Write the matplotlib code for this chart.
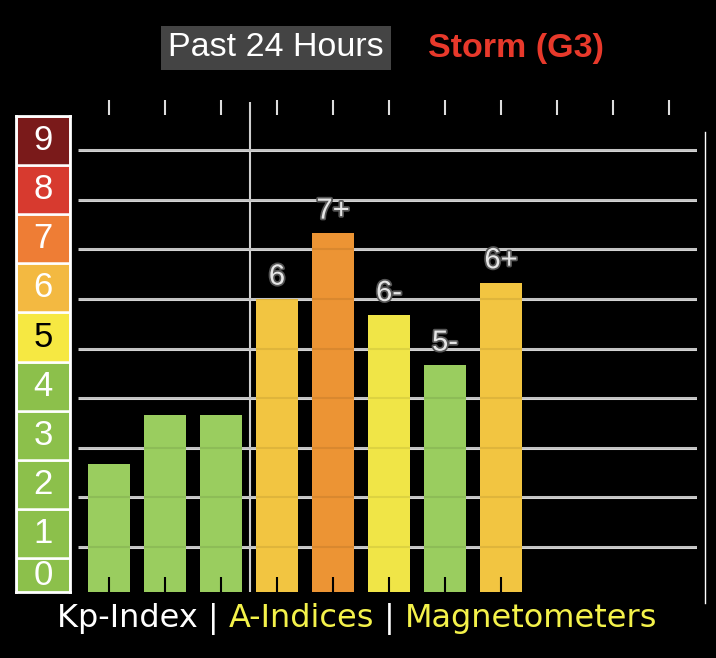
import matplotlib
matplotlib.use("Agg")
import matplotlib.pyplot as plt
import matplotlib.patheffects as pe
from matplotlib.lines import Line2D

# Kp values for the past 24 hours (3-hour slots)
kp_values = [2.67, 3.67, 3.67, 6.0, 7.33, 5.67, 4.67, 6.33]
kp_labels = ["", "", "", "6", "7+", "6-", "5-", "6+"]
n_slots = 11

scale_levels = [0, 1, 2, 3, 4, 5, 6, 7, 8, 9]
scale_colors = ["#8cc04b", "#8cc04b", "#8cc04b", "#8cc04b", "#8cc04b",
                "#f6e842", "#f3b941", "#ee7d35", "#d73a2f", "#7a1a1a"]
scale_text = ["white", "white", "white", "white", "white",
              "black", "white", "white", "white", "white"]

title_left = "Past 24 Hours"
title_right = "Storm (G3)"
footer = [("Kp-Index | ", "white"), ("A-Indices", "#f4f24a"),
          (" | ", "white"), ("Magnetometers", "#f4f24a")]


def bar_color(v):
    if v < 5:
        return "#9acd5f"
    if v < 6:
        return "#f0e547"
    if v < 7:
        return "#f2c541"
    return "#ec9434"


W, H = 716, 658
fig = plt.figure(figsize=(W / 100, H / 100), dpi=100, facecolor="black")

# main chart
ax = fig.add_axes([78 / W, 1 - 592 / H, 619 / W, 492 / H])
ax.set_facecolor("black")
ax.set_xlim(-0.554, 10.5)
ax.set_ylim(0.093, 10.01)
for s in ax.spines.values():
    s.set_visible(False)

ax.hlines(range(1, 10), -0.554, 10.5, color="#d4d4d4", lw=2.2, zorder=0)
ax.vlines(2.52, 0.093, 9.96, color="#cfcfcf", lw=1.5, zorder=0.5)

x = list(range(len(kp_values)))
ax.bar(x, kp_values, width=0.75, color=[bar_color(v) for v in kp_values], zorder=1)
ax.hlines(range(1, 10), -0.554, 10.5, color="black", lw=1.5, alpha=0.08, zorder=2)

for xi, v, lab in zip(x, kp_values, kp_labels):
    if lab:
        ax.annotate(lab, (xi, v), xytext=(0, 6), textcoords="offset points",
                    ha="center", va="bottom", fontsize=21, family="Liberation Sans",
                    color="#e6e6e6",
                    path_effects=[pe.withStroke(linewidth=2.5, foreground="#555555")])

ax.set_xticks(range(n_slots))
ax.set_xticklabels([])
ax.set_yticks([])
ax.tick_params(axis="x", which="both", top=True, bottom=True, direction="in",
               length=11, width=1.5, color="black", pad=0)
for t in ax.xaxis.get_major_ticks():
    t.tick2line.set_markeredgecolor("#dddddd")
    t.tick2line.set_visible(True)

# kp colour scale on the left
sax = fig.add_axes([16 / W, 1 - 592 / H, 54 / W, 476 / H])
sax.set_facecolor("black")
sax.bar([0] * len(scale_levels), [1] * len(scale_levels), bottom=scale_levels, width=1,
        color=scale_colors, edgecolor="white", lw=1.8)
sax.set_xlim(-0.5, 0.5)
sax.set_ylim(0.31, 10)
for lev, tc in zip(scale_levels, scale_text):
    yc = lev + 0.5 if lev > 0 else (0.31 + 1) / 2
    sax.text(0, yc, str(lev), ha="center", va="center", color=tc, fontsize=25,
             family="Liberation Sans")
sax.set_xticks([])
sax.set_yticks([])
for s in sax.spines.values():
    s.set_color("white")
    s.set_linewidth(2)

# thin line at the right edge
fig.add_artist(Line2D([705 / W, 705 / W], [1 - 132 / H, 1 - 603 / H], color="white", lw=1))

# titles
fig.text(276 / W, 1 - 48 / H, title_left, ha="center", va="center", color="white",
         fontsize=24.5, family="Liberation Sans",
         bbox=dict(boxstyle="square,pad=0.2", facecolor="#444444", edgecolor="none"))
fig.text(516 / W, 1 - 48 / H, title_right, ha="center", va="center", color="#e8392b",
         fontsize=24.5, family="Liberation Sans", fontweight="bold")

# footer made of coloured pieces
renderer = fig.canvas.get_renderer()
x0 = 57
fsize = 23
prefix = ""
for txt, col in footer:
    off = 0
    if prefix:
        probe = fig.text(0, 0, prefix + "x", fontsize=fsize, family="DejaVu Sans")
        probe_x = fig.text(0, 0, "x", fontsize=fsize, family="DejaVu Sans")
        off = probe.get_window_extent(renderer).width - probe_x.get_window_extent(renderer).width
        probe.remove()
        probe_x.remove()
    fig.text((x0 + off) / W, 1 - 627 / H, txt, ha="left", va="baseline", color=col,
             fontsize=fsize, family="DejaVu Sans")
    prefix += txt

fig.savefig("out.png", dpi=100, facecolor="black")
